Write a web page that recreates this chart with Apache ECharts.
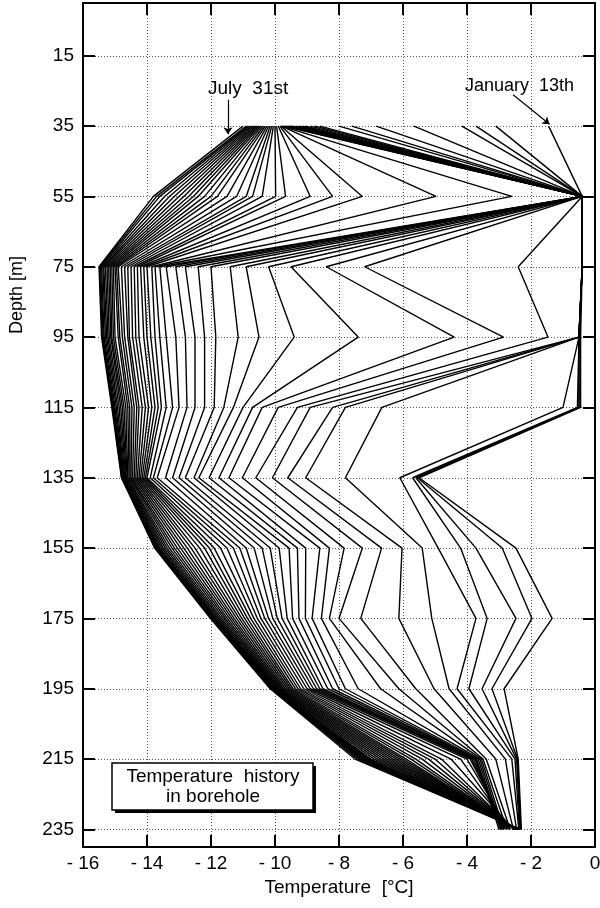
<!DOCTYPE html>
<html>
<head>
<meta charset="utf-8">
<script src="https://cdn.jsdelivr.net/npm/echarts@6/dist/echarts.min.js"></script>
<style>
  html, body { margin: 0; padding: 0; background: #fff; }
  #chart { width: 600px; height: 908px; }
</style>
</head>
<body>
<div id="chart"></div>
<script>
// thermistor depths [m] and the depth tick labels
const depths = [35, 55, 75, 95, 115, 135, 155, 175, 195, 215, 235]
const depthTicks = [15, 35, 55, 75, 95, 115, 135, 155, 175, 195, 215, 235]

// temperature [°C] at each depth, one value per profile (January 13th first, July 31st last)
const t35 = [-1.45, -3.1, -3.72, -4.16, -5.66, -6.84, -7.6, -8.0, -8.6, -8.75, -8.9, -9.05, -9.15, -9.25, -9.35, -9.45,
  -9.5, -9.55, -9.6, -9.65, -9.7, -9.75, -9.8, -9.8, -9.82, -9.85, -9.9, -9.95, -10.0, -10.05, -10.1, -10.15,
  -10.2, -10.25, -10.3, -10.35, -10.4, -10.45, -10.5, -10.55, -10.6, -10.65, -10.7, -10.75, -10.8, -10.85, -10.9, -11.0]
const t55 = [-0.4, -0.4, -0.4, -0.4, -0.4, -0.4, -0.4, -0.4, -0.4, -0.4, -0.4, -0.4, -0.4, -0.4, -0.4, -0.4,
  -0.4, -0.4, -0.4, -0.4, -0.4, -0.4, -2.6, -4.97, -7.27, -8.2, -8.9, -9.67, -9.98, -10.4, -10.7, -10.9,
  -11.2, -11.5, -11.8, -12.0, -12.2, -12.4, -12.55, -12.7, -12.85, -13.0, -13.15, -13.3, -13.45, -13.6, -13.7, -13.8]
const t75 = [-0.4, -0.4, -0.4, -0.4, -0.4, -0.4, -0.4, -0.4, -0.4, -2.4, -7.2, -8.4, -9.5, -10.2, -10.9, -11.4,
  -12.0, -12.4, -12.8, -13.1, -13.4, -13.6, -13.75, -13.85, -14.0, -14.1, -14.2, -14.3, -14.4, -14.5, -14.6, -14.7,
  -14.8, -14.9, -14.95, -15.0, -15.05, -15.1, -15.15, -15.2, -15.25, -15.3, -15.35, -15.38, -15.42, -15.45, -15.48, -15.5]
const t95 = [-0.45, -0.5, -0.5, -0.5, -0.5, -0.5, -0.5, -0.5, -0.5, -1.47, -2.86, -4.4, -7.4, -9.4, -10.5, -11.15,
  -11.85, -12.2, -12.5, -12.8, -13.1, -13.4, -13.6, -13.75, -13.88, -14.0, -14.1, -14.25, -14.35, -14.45, -14.55, -14.6,
  -14.7, -14.77, -14.85, -14.9, -15.0, -15.05, -15.1, -15.13, -15.18, -15.22, -15.26, -15.3, -15.34, -15.37, -15.4, -15.42]
const t115 = [-0.45, -0.5, -0.5, -0.55, -1.0, -6.66, -7.8, -8.2, -8.9, -9.3, -9.9, -10.4, -10.7, -11.0, -11.3, -11.6,
  -11.9, -12.2, -12.5, -12.75, -13.0, -13.2, -13.4, -13.55, -13.65, -13.75, -13.85, -13.95, -14.05, -14.15, -14.25, -14.32,
  -14.4, -14.47, -14.54, -14.6, -14.66, -14.72, -14.77, -14.82, -14.87, -14.92, -14.96, -15.0, -15.03, -15.06, -15.08, -15.1]
const t135 = [-5.5, -5.55, -5.6, -5.7, -6.1, -7.8, -9.04, -9.6, -10.08, -10.6, -11.02, -11.44, -11.75, -12.06, -12.38, -12.53,
  -12.8, -13.0, -13.2, -13.42, -13.68, -13.8, -13.9, -14.0, -14.05, -14.1, -14.15, -14.2, -14.25, -14.3, -14.35, -14.4,
  -14.45, -14.5, -14.53, -14.56, -14.6, -14.62, -14.65, -14.67, -14.7, -14.72, -14.74, -14.76, -14.77, -14.78, -14.79, -14.8]
const t155 = [-2.47, -2.9, -3.72, -4.2, -4.9, -5.4, -6.03, -6.67, -7.27, -7.84, -8.3, -8.6, -9.04, -9.3, -9.56, -9.87,
  -10.15, -10.4, -10.65, -10.9, -11.1, -11.3, -11.5, -11.7, -11.9, -12.05, -12.2, -12.35, -12.5, -12.62, -12.74, -12.85,
  -12.95, -13.05, -13.14, -13.22, -13.3, -13.37, -13.43, -13.49, -13.54, -13.59, -13.63, -13.66, -13.69, -13.72, -13.74, -13.76]
const t175 = [-1.34, -1.97, -2.47, -3.37, -3.72, -5.1, -6.13, -7.32, -8.0, -8.3, -8.55, -8.84, -9.05, -9.25, -9.45, -9.62,
  -9.78, -9.93, -10.07, -10.2, -10.32, -10.44, -10.55, -10.66, -10.76, -10.86, -10.95, -11.04, -11.12, -11.2, -11.28, -11.35,
  -11.42, -11.49, -11.55, -11.61, -11.67, -11.72, -11.77, -11.81, -11.85, -11.88, -11.91, -11.94, -11.96, -11.98, -12.0, -12.02]
const t195 = [-2.84, -3.22, -3.53, -3.94, -4.31, -4.56, -5.03, -5.6, -6.13, -6.7, -7.4, -7.8, -8.0, -8.2, -8.35, -8.5,
  -8.6, -8.7, -8.8, -8.9, -9.0, -9.1, -9.2, -9.28, -9.36, -9.44, -9.5, -9.56, -9.62, -9.68, -9.73, -9.78,
  -9.82, -9.86, -9.9, -9.93, -9.96, -9.99, -10.02, -10.04, -10.06, -10.08, -10.09, -10.1, -10.11, -10.12, -10.13, -10.15]
const t215 = [-2.4, -2.42, -2.45, -2.5, -2.6, -2.8, -3.1, -3.4, -3.5, -3.55, -3.6, -3.65, -3.7, -3.72, -3.75, -3.8,
  -3.85, -3.9, -4.0, -4.2, -4.5, -4.8, -5.0, -5.2, -5.4, -5.6, -5.75, -5.9, -6.0, -6.1, -6.2, -6.3,
  -6.4, -6.5, -6.6, -6.7, -6.8, -6.9, -7.0, -7.05, -7.1, -7.15, -7.2, -7.25, -7.3, -7.35, -7.42, -7.5]
const t235 = [-2.3, -2.32, -2.34, -2.36, -2.38, -2.45, -2.55, -2.65, -2.75, -2.85, -2.9, -2.95, -3.0, -2.95, -2.9, -2.85,
  -2.8, -2.75, -2.7, -2.65, -2.55, -2.53, -2.51, -2.5, -2.49, -2.48, -2.47, -2.46, -2.45, -2.44, -2.43, -2.42,
  -2.42, -2.41, -2.41, -2.4, -2.4, -2.39, -2.39, -2.38, -2.38, -2.37, -2.37, -2.36, -2.36, -2.35, -2.35, -2.34]

const columns = [t35, t55, t75, t95, t115, t135, t155, t175, t195, t215, t235]
const font = 'Liberation Sans'

const series = t35.map((_, p) => ({
  type: 'line',
  showSymbol: false,
  silent: true,
  lineStyle: { color: '#000', width: 1.4 },
  data: depths.map((d, k) => [columns[k][p], d])
}))

// arrows of the two date annotations
series[0].markLine = {
  silent: true,
  symbol: ['none', 'arrow'],
  symbolSize: 7,
  label: { show: false },
  lineStyle: { color: '#000', width: 1.2, type: 'solid' },
  data: [
    [{ coord: [-11.47, 27.5] }, { coord: [-11.47, 37.3] }],
    [{ coord: [-2.56, 26.1] }, { coord: [-1.42, 34.5] }]
  ]
}

const frameLine = { show: true, onZero: false, lineStyle: { color: '#000', width: 2 } }
const innerTick = { show: true, inside: true, length: 12, lineStyle: { color: '#000', width: 2 } }
const gridLine = { show: true, lineStyle: { color: '#555', width: 1, type: [1, 2] } }

const chart = echarts.init(document.getElementById('chart'))
chart.setOption({
  animation: false,
  backgroundColor: '#fff',
  grid: { left: 83, right: 5, top: 3, bottom: 61, outerBoundsMode: 'none' },
  xAxis: [{
    type: 'value',
    position: 'bottom',
    min: -16,
    max: 0,
    interval: 2,
    axisLine: frameLine,
    axisTick: innerTick,
    splitLine: gridLine,
    axisLabel: {
      color: '#000',
      fontFamily: font,
      fontSize: 19,
      margin: 7,
      formatter: v => (v < 0 ? '- ' + (-v) : String(v))
    },
    name: 'Temperature  [°C]',
    nameLocation: 'middle',
    nameGap: 30,
    nameTextStyle: { color: '#000', fontFamily: font, fontSize: 19 }
  }, {
    type: 'value',
    position: 'top',
    min: -16,
    max: 0,
    interval: 2,
    axisLine: frameLine,
    axisTick: innerTick,
    axisLabel: { show: false },
    splitLine: { show: false }
  }],
  yAxis: [{
    type: 'value',
    position: 'left',
    inverse: true,
    min: 0,
    max: 240,
    axisLine: frameLine,
    axisTick: Object.assign({}, innerTick, { customValues: depthTicks }),
    splitLine: gridLine,
    axisLabel: {
      color: '#000',
      fontFamily: font,
      fontSize: 19,
      margin: 9,
      customValues: depthTicks
    }
  }, {
    type: 'value',
    position: 'right',
    inverse: true,
    min: 0,
    max: 240,
    axisLine: frameLine,
    axisTick: Object.assign({}, innerTick, { customValues: depthTicks }),
    axisLabel: { show: false },
    splitLine: { show: false }
  }],
  graphic: [
    {
      type: 'text', x: 17, y: 295, rotation: Math.PI / 2, silent: true,
      style: { text: 'Depth [m]', fill: '#000', font: '18px ' + font, textAlign: 'center', textVerticalAlign: 'middle' }
    },
    {
      type: 'text', x: 208, y: 89, silent: true,
      style: { text: 'July  31st', fill: '#000', font: '19px ' + font, textAlign: 'left', textVerticalAlign: 'middle' }
    },
    {
      type: 'text', x: 465, y: 86, silent: true,
      style: { text: 'January  13th', fill: '#000', font: '18px ' + font, textAlign: 'left', textVerticalAlign: 'middle' }
    },
    {
      type: 'rect', silent: true, z: 10,
      shape: { x: 115, y: 766, width: 201, height: 47 },
      style: { fill: '#000' }
    },
    {
      type: 'rect', silent: true, z: 11,
      shape: { x: 112, y: 763, width: 201, height: 47 },
      style: { fill: '#fff', stroke: '#000', lineWidth: 1.5 }
    },
    {
      type: 'text', x: 213, y: 777, silent: true, z: 12,
      style: { text: 'Temperature  history', fill: '#000', font: '19px ' + font, textAlign: 'center', textVerticalAlign: 'middle' }
    },
    {
      type: 'text', x: 213, y: 797, silent: true, z: 12,
      style: { text: 'in borehole', fill: '#000', font: '19px ' + font, textAlign: 'center', textVerticalAlign: 'middle' }
    }
  ],
  series: series
})
</script>
</body>
</html>
